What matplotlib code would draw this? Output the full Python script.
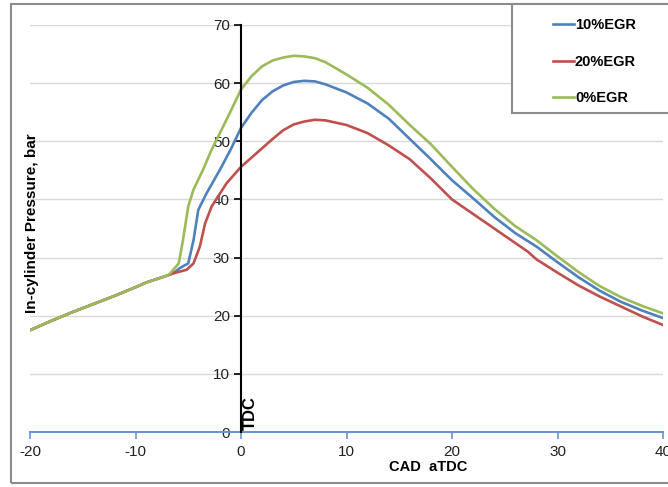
import matplotlib
matplotlib.use("Agg")
import matplotlib.pyplot as plt
from matplotlib.patches import Rectangle

# crank angle (CAD aTDC) and in-cylinder pressure (bar)
cad_egr10 = [-20, -18, -16, -14, -12, -10, -9, -8, -7, -6.2, -5.8, -5.0, -4.5, -4.05, -3.25,
             -2.0, -1.0, 0, 1, 2, 3, 4, 5, 6, 7, 8, 10, 12, 14, 16, 18, 20, 22, 24, 26,
             28, 30, 32, 34, 36, 38, 40]
p_egr10 = [17.5, 19.1, 20.6, 22.0, 23.4, 24.9, 25.7, 26.3, 26.9, 27.6, 28.2, 29.0, 33.0, 38.2, 41.1,
           45.1, 48.5, 52.3, 54.9, 57.1, 58.6, 59.6, 60.2, 60.4, 60.3, 59.8, 58.4, 56.5, 53.9, 50.4,
           46.9, 43.3, 40.2, 37.0, 34.2, 31.9, 29.2, 26.6, 24.3, 22.4, 20.9, 19.6]

cad_egr20 = [-20, -18, -16, -14, -12, -10, -9, -8, -7, -6.2, -5.15, -4.5, -3.9, -3.4, -2.78,
             -2.0, -1.36, 0, 1, 2, 3, 4, 5, 6, 7, 8, 10, 12, 14, 16, 18, 20, 22, 24, 26,
             27.2, 28, 30, 32, 34, 36, 38, 40]
p_egr20 = [17.5, 19.1, 20.6, 22.0, 23.4, 24.9, 25.7, 26.3, 26.9, 27.4, 27.9, 29.0, 31.9, 35.9, 38.8,
           41.0, 42.8, 45.6, 47.2, 48.8, 50.4, 51.9, 52.9, 53.4, 53.7, 53.6, 52.8, 51.4, 49.3, 46.9,
           43.6, 40.0, 37.5, 35.0, 32.5, 31.0, 29.7, 27.4, 25.2, 23.3, 21.6, 19.9, 18.4]

cad_egr0 = [-20, -18, -16, -14, -12, -10, -9, -8, -7, -6.7, -5.9, -5.5, -5.0, -4.5, -3.6,
            -2.8, -2.0, -1.0, 0, 1, 2, 3, 4, 5, 6, 7, 8, 10, 12, 14, 16, 18, 20, 22, 24,
            26, 28, 30, 32, 34, 36, 38, 40]
p_egr0 = [17.5, 19.1, 20.6, 22.0, 23.4, 24.9, 25.7, 26.3, 26.9, 27.3, 29.0, 33.0, 38.8, 41.7, 45.1,
          48.5, 51.4, 55.1, 58.9, 61.2, 62.9, 63.9, 64.4, 64.7, 64.6, 64.3, 63.6, 61.5, 59.2, 56.3,
          52.8, 49.5, 45.6, 41.8, 38.4, 35.4, 33.0, 30.2, 27.5, 25.1, 23.2, 21.7, 20.4]

series_labels = ["10%EGR", "20%EGR", "0%EGR"]
series_colors = ["#4F81BD", "#C0504D", "#9BBB59"]

plt.rcParams["font.family"] = ["Liberation Sans", "DejaVu Sans"]
plt.rcParams["axes.unicode_minus"] = False

fig = plt.figure(figsize=(6.68, 4.87), dpi=100)
ax = fig.add_axes([30 / 668, 1 - 432 / 487, 633 / 668, 407 / 487])

ax.plot(cad_egr10, p_egr10, color=series_colors[0], lw=1.9, label=series_labels[0])
ax.plot(cad_egr20, p_egr20, color=series_colors[1], lw=1.9, label=series_labels[1])
ax.plot(cad_egr0, p_egr0, color=series_colors[2], lw=1.9, label=series_labels[2])

ax.set_xlim(-20, 40)
ax.set_ylim(0, 70)
ax.set_xticks(range(-20, 41, 10))
ax.set_yticks(range(0, 71, 10))

ax.grid(axis="y", color="#D9D9D9", lw=1)
ax.set_axisbelow(True)

ax.spines["top"].set_visible(False)
ax.spines["right"].set_visible(False)
ax.spines["left"].set_position(("data", 0))
ax.spines["left"].set_color("black")
ax.spines["left"].set_linewidth(1.5)
ax.spines["left"].set_zorder(3)
ax.spines["bottom"].set_color("#6A96CE")
ax.spines["bottom"].set_linewidth(1.5)

ax.tick_params(axis="x", direction="out", length=5, width=1.2, color="#6A96CE",
               labelsize=11, labelcolor="#222222", pad=4)
ax.tick_params(axis="y", direction="out", length=5, width=1.2, color="black",
               labelsize=11, labelcolor="#222222", pad=3)

ax.text(0.85, 0.3, "TDC", rotation=90, ha="center", va="bottom",
        fontsize=12, fontweight="bold")

fig.text(428 / 668, 1 - 467 / 487, "CAD  aTDC", ha="center", va="center",
         fontsize=10.5, fontweight="bold")
fig.text(32 / 668, 1 - 223 / 487, "In-cylinder Pressure, bar", rotation=90,
         ha="center", va="center", fontsize=11, fontweight="bold")

# outer chart frame and legend box
fig.patches.append(Rectangle((11 / 668, 1 - 483 / 487), 1.0, 479 / 487,
                             transform=fig.transFigure, fill=False,
                             edgecolor="#8C8C8C", lw=1.5))
fig.patches.append(Rectangle((512 / 668, 1 - 113 / 487), 0.5, 109 / 487,
                             transform=fig.transFigure, facecolor="white",
                             edgecolor="#8C8C8C", lw=1.5, zorder=5))

leg = fig.legend(loc="upper left", bbox_to_anchor=(553 / 668, 1 - 18 / 487),
                 frameon=False, borderpad=0, borderaxespad=0, handlelength=1.45,
                 handletextpad=0.05, labelspacing=1.56,
                 prop={"size": 10.5, "weight": "bold"})
leg.set_zorder(6)

fig.savefig("out.png", dpi=100)
